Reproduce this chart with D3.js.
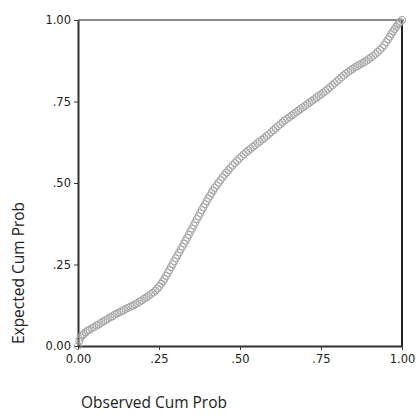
<!DOCTYPE html>
<html>
<head>
<meta charset="utf-8">
<script src="https://cdn.jsdelivr.net/npm/d3@7"></script>
<style>
  body { margin: 0; background: #fff; }
  svg { display: block; }
</style>
</head>
<body>
<div id="pp_plot"></div>
<script>
// tick positions and their labels
var tickValues = [0, 0.25, 0.5, 0.75, 1];
var tickLabels = ["0.00", ".25", ".50", ".75", "1.00"];

// observed cum prob vs expected cum prob
var ppPoints = [
  [0.000,0.000],[0.004,0.016],[0.008,0.026],[0.013,0.032],[0.018,0.037],[0.024,0.042],
  [0.030,0.047],[0.036,0.050],[0.043,0.055],[0.050,0.058],[0.057,0.063],[0.064,0.066],
  [0.071,0.071],[0.078,0.075],[0.085,0.079],[0.092,0.083],[0.099,0.088],[0.106,0.091],
  [0.113,0.096],[0.120,0.100],[0.127,0.103],[0.134,0.107],[0.141,0.110],[0.148,0.114],
  [0.155,0.117],[0.162,0.121],[0.169,0.124],[0.176,0.128],[0.183,0.131],[0.190,0.136],
  [0.197,0.140],[0.204,0.145],[0.211,0.149],[0.218,0.154],[0.225,0.159],[0.232,0.164],
  [0.239,0.170],[0.245,0.176],[0.251,0.183],[0.257,0.191],[0.262,0.198],[0.267,0.206],
  [0.272,0.215],[0.277,0.224],[0.282,0.233],[0.287,0.242],[0.292,0.251],[0.297,0.260],
  [0.302,0.269],[0.307,0.278],[0.312,0.287],[0.317,0.296],[0.322,0.305],[0.327,0.314],
  [0.332,0.323],[0.337,0.332],[0.342,0.341],[0.347,0.351],[0.352,0.360],[0.357,0.370],
  [0.362,0.379],[0.367,0.389],[0.372,0.398],[0.377,0.408],[0.382,0.417],[0.387,0.426],
  [0.392,0.435],[0.397,0.444],[0.402,0.453],[0.407,0.461],[0.412,0.469],[0.417,0.477],
  [0.422,0.485],[0.428,0.493],[0.434,0.501],[0.440,0.509],[0.446,0.517],[0.452,0.525],
  [0.458,0.532],[0.464,0.539],[0.470,0.546],[0.477,0.554],[0.484,0.561],[0.491,0.568],
  [0.498,0.575],[0.505,0.582],[0.512,0.588],[0.519,0.594],[0.526,0.600],[0.533,0.605],
  [0.540,0.611],[0.547,0.616],[0.554,0.622],[0.561,0.627],[0.568,0.633],[0.575,0.638],
  [0.582,0.644],[0.589,0.650],[0.596,0.656],[0.603,0.662],[0.610,0.668],[0.617,0.674],
  [0.624,0.680],[0.631,0.686],[0.638,0.692],[0.645,0.697],[0.652,0.702],[0.659,0.707],
  [0.666,0.712],[0.673,0.717],[0.680,0.722],[0.687,0.727],[0.694,0.732],[0.701,0.737],
  [0.708,0.742],[0.715,0.747],[0.722,0.752],[0.729,0.757],[0.736,0.762],[0.743,0.767],
  [0.750,0.772],[0.757,0.777],[0.764,0.782],[0.771,0.788],[0.778,0.794],[0.785,0.800],
  [0.792,0.806],[0.799,0.812],[0.806,0.818],[0.813,0.824],[0.820,0.830],[0.827,0.836],
  [0.834,0.841],[0.841,0.846],[0.848,0.850],[0.855,0.855],[0.862,0.859],[0.869,0.863],
  [0.876,0.867],[0.883,0.871],[0.890,0.875],[0.897,0.880],[0.904,0.885],[0.911,0.890],
  [0.918,0.896],[0.925,0.902],[0.932,0.908],[0.939,0.915],[0.945,0.923],[0.951,0.932],
  [0.957,0.941],[0.962,0.949],[0.967,0.957],[0.972,0.965],[0.977,0.972],[0.982,0.979],
  [0.987,0.986],[0.991,0.991],[0.995,0.995],[1.000,1.000]
];

var xTitle = "Observed Cum Prob";
var yTitle = "Expected Cum Prob";

// dimensions
var W = 416, H = 415;
var plot = {left: 78, right: 402, top: 20, bottom: 346};

var svg = d3.select("#pp_plot")
  .append("svg")
    .attr("width", W)
    .attr("height", H);

var x = d3.scaleLinear().domain([0, 1]).range([plot.left, plot.right]);
var y = d3.scaleLinear().domain([0, 1]).range([plot.bottom, plot.top]);

function fmt(d) { return tickLabels[tickValues.indexOf(d)]; }

// frame: top and right
svg.append("line")
  .attr("x1", plot.left).attr("x2", plot.right)
  .attr("y1", plot.top).attr("y2", plot.top)
  .attr("stroke", "#666").attr("stroke-width", 1.5);
svg.append("line")
  .attr("x1", plot.right).attr("x2", plot.right)
  .attr("y1", plot.top).attr("y2", plot.bottom)
  .attr("stroke", "#222").attr("stroke-width", 2);

// X axis
var xAxis = svg.append("g")
  .attr("transform", "translate(0," + plot.bottom + ")")
  .call(d3.axisBottom(x).tickValues(tickValues).tickFormat(fmt).tickSize(4).tickSizeOuter(0));

// Y axis
var yAxis = svg.append("g")
  .attr("transform", "translate(" + plot.left + ",0)")
  .call(d3.axisLeft(y).tickValues(tickValues).tickFormat(fmt).tickSize(4).tickSizeOuter(0));

[xAxis, yAxis].forEach(function(a) {
  a.select(".domain").attr("stroke", "#333").attr("stroke-width", 2);
  a.selectAll(".tick line").attr("stroke", "#333");
  a.selectAll(".tick text")
    .attr("fill", "#222")
    .style("font-family", "'DejaVu Sans', Verdana, sans-serif")
    .style("font-size", "11.5px");
});
xAxis.selectAll(".tick text").attr("dy", "0.9em");

// points
svg.append("g")
  .selectAll("circle")
  .data(ppPoints)
  .join("circle")
    .attr("cx", function(d) { return x(d[0]); })
    .attr("cy", function(d) { return y(d[1]); })
    .attr("r", 3.6)
    .attr("fill", "none")
    .attr("stroke", "#a3a3a3")
    .attr("stroke-width", 1);

// axis titles
svg.append("text")
  .attr("x", 154)
  .attr("y", 408)
  .attr("text-anchor", "middle")
  .style("font-family", "'Open Sans', sans-serif")
  .style("font-size", "15.5px")
  .attr("fill", "#222")
  .text(xTitle);

svg.append("text")
  .attr("transform", "translate(24,273) rotate(-90)")
  .attr("text-anchor", "middle")
  .style("font-family", "'Open Sans', sans-serif")
  .style("font-size", "15.5px")
  .attr("fill", "#222")
  .text(yTitle);
</script>
</body>
</html>
